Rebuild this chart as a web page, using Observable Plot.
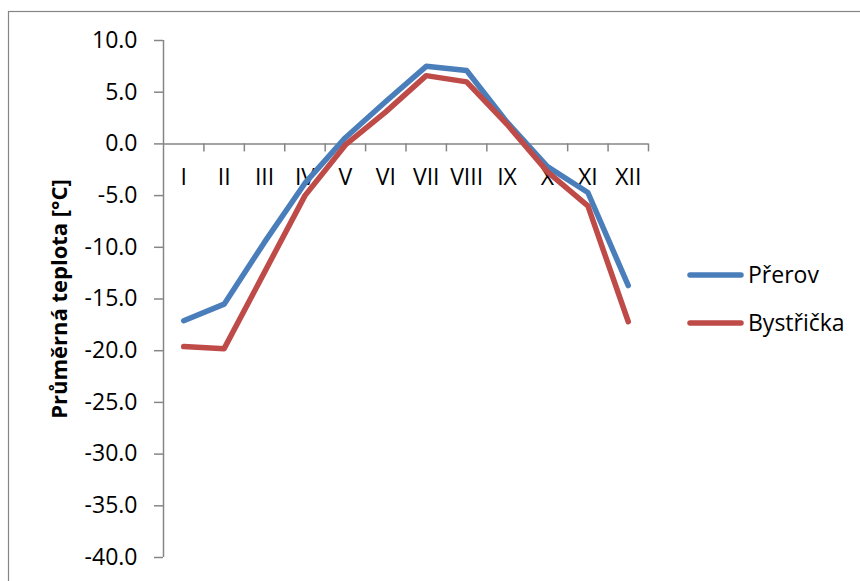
<!DOCTYPE html>
<html>
<head>
<meta charset="utf-8">
<script src="https://cdn.jsdelivr.net/npm/d3@7"></script>
<script src="https://cdn.jsdelivr.net/npm/@observablehq/plot@0.6"></script>
<style>
  body { margin: 0; background: #fff; }
  #chart svg { display: block; }
</style>
</head>
<body>
<div id="chart"></div>
<script>
// Monthly mean temperatures (°C) for two stations
const months = ["I", "II", "III", "IV", "V", "VI", "VII", "VIII", "IX", "X", "XI", "XII"];
const prerov = [-17.1, -15.5, -9.5, -3.8, 0.6, 4.1, 7.5, 7.1, 2.1, -2.2, -4.7, -13.7];
const bystricka = [-19.6, -19.8, -12.4, -5.0, -0.1, 3.1, 6.6, 6.0, 1.9, -2.7, -6.0, -17.2];
const seriesNames = ["Přerov", "Bystřička"];
const seriesColors = ["#4a7ebb", "#be4b48"];
const yTicks = [-40, -35, -30, -25, -20, -15, -10, -5, 0, 5, 10];
const yLabel = "Průměrná teplota [°C]";

const axisGray = "#868686";
const font = "'Open Sans', 'Noto Sans', sans-serif";
const labelSize = 23;

const rows = months.flatMap((m, i) => [
  {idx: i + 1, month: m, series: seriesNames[0], t: prerov[i]},
  {idx: i + 1, month: m, series: seriesNames[1], t: bystricka[i]}
]);

// category boundaries where the tick marks sit on the zero line
const boundaries = months.map((m, i) => i + 1.5);

const W = 860, H = 581;
const mL = 163, mR = 212, mT = 40, mB = 24;
const yMin = yTicks[0], yMax = yTicks[yTicks.length - 1];
const xMin = 0.5, xMax = months.length + 0.5;
// pixel lengths of the small tick marks, expressed in data units
const yUnitsPerPx = (yMax - yMin) / (H - mT - mB);
const xUnitsPerPx = (xMax - xMin) / (W - mL - mR);
const xTickLen = 8 * yUnitsPerPx;
const yTickLen = 9 * xUnitsPerPx;
const fmt = d => d.toFixed(1);

const chart = Plot.plot({
  width: W,
  height: H,
  marginLeft: mL,
  marginRight: mR,
  marginTop: mT,
  marginBottom: mB,
  style: {fontFamily: font, fontSize: labelSize + "px", background: "#fff", color: "#000", overflow: "visible"},
  x: {type: "linear", domain: [xMin, xMax], axis: null},
  y: {domain: [yMin, yMax], axis: null},
  color: {domain: seriesNames, range: seriesColors},
  marks: [
    // value axis: gray line and tick marks, black labels
    Plot.ruleY(yTicks, {x1: xMin - yTickLen, x2: xMin, stroke: axisGray, strokeWidth: 1.5}),
    Plot.text(yTicks, {
      y: d => d, frameAnchor: "left", textAnchor: "end", dx: -26,
      text: fmt, fontSize: labelSize, fill: "#000"
    }),
    Plot.ruleX([xMin], {y1: yMin, y2: yMax, stroke: axisGray, strokeWidth: 1.5}),
    // category axis along zero
    Plot.ruleY([0], {stroke: axisGray, strokeWidth: 1.5}),
    Plot.ruleX(boundaries, {y1: 0, y2: -xTickLen, stroke: axisGray, strokeWidth: 1.5}),
    Plot.text(months, {x: (d, i) => i + 1, y: () => 0, text: d => d, dy: 34, fontSize: labelSize, fill: "#000"}),
    Plot.line(rows, {
      x: "idx", y: "t", z: "series", stroke: "series",
      strokeWidth: 5.5, strokeLinejoin: "round", strokeLinecap: "round"
    }),
    Plot.text([yLabel], {
      frameAnchor: "left", textAnchor: "middle", text: d => d, rotate: -90, dx: -104,
      fontWeight: "bold", fontSize: 22, fill: "#000"
    })
  ]
});

document.getElementById("chart").appendChild(chart);

// outer chart-area border and the legend on the right
const svg = d3.select(chart);
svg.insert("rect", ":first-child")
  .attr("x", 8.5).attr("y", 11.5)
  .attr("width", W + 20).attr("height", H + 20)
  .attr("fill", "none").attr("stroke", axisGray).attr("stroke-width", 1.2);

const legend = svg.append("g")
  .attr("font-family", font)
  .attr("font-size", labelSize)
  .attr("text-anchor", "start");
const legendY = [275, 323];
seriesNames.forEach((name, i) => {
  legend.append("line")
    .attr("x1", 690).attr("x2", 741)
    .attr("y1", legendY[i]).attr("y2", legendY[i])
    .attr("stroke", seriesColors[i]).attr("stroke-width", 5.5)
    .attr("stroke-linecap", "round");
  legend.append("text")
    .attr("x", 748).attr("y", legendY[i])
    .attr("dy", "0.35em")
    .attr("fill", "#000")
    .text(name);
});
</script>
</body>
</html>
